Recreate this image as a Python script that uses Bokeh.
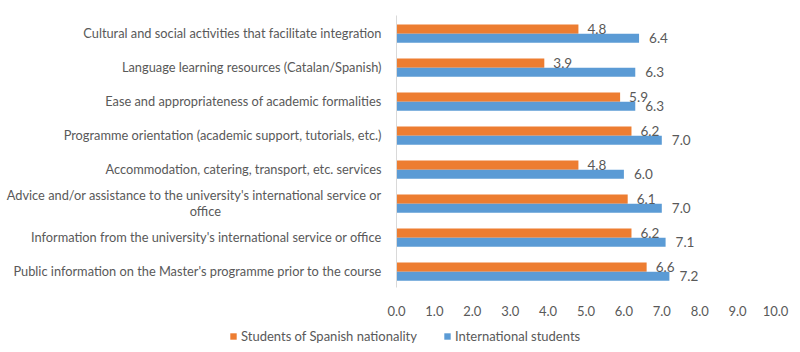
from bokeh.plotting import figure
from bokeh.layouts import column
from bokeh.models import ColumnDataSource, FixedTicker, Legend, LegendItem, NumeralTickFormatter
from bokeh.transform import dodge
from bokeh.core.properties import value
from bokeh.embed import file_html
from bokeh.resources import INLINE

categories = [
    "Cultural and social activities that facilitate integration",
    "Language learning resources (Catalan/Spanish)",
    "Ease and appropriateness of academic formalities",
    "Programme orientation (academic support, tutorials, etc.)",
    "Accommodation, catering, transport, etc. services",
    "Advice and/or assistance to the university's international service or\noffice",
    "Information from the university's international service or office",
    "Public information on the Master's programme prior to the course",
]
spanish = [4.8, 3.9, 5.9, 6.2, 4.8, 6.1, 6.2, 6.6]
international = [6.4, 6.3, 6.3, 7.0, 6.0, 7.0, 7.1, 7.2]
x_ticks = [0, 1, 2, 3, 4, 5, 6, 7, 8, 9, 10]
series_names = ["Students of Spanish nationality", "International students"]

ORANGE = "#ED7D31"
BLUE = "#5B9BD5"
TXT = "#595959"
FONT = "Lato"

# second line of a wrapped label is centred in the reference: pad it so it sits centred
def centre_wrapped(label):
    if "\n" not in label:
        return label
    first, second = label.split("\n", 1)
    pad = max(0, (len(first) - len(second)) // 2)
    return first + "\n" + second + "\u00a0" * int(pad * 1.6) + "\u200b"

factors = [centre_wrapped(c) for c in categories]

src = ColumnDataSource(dict(
    cat=factors,
    sp=spanish,
    intl=international,
    sp_lbl=[f"{v:.1f}" for v in spanish],
    intl_lbl=[f"{v:.1f}" for v in international],
))

p = figure(
    width=800, height=322,
    y_range=list(reversed(factors)),
    x_range=(0, 10),
    output_backend="svg", toolbar_location=None,
    min_border_left=396, min_border_right=25,
    min_border_top=15, min_border_bottom=35,
)
p.outline_line_color = None
p.xgrid.grid_line_color = None
p.ygrid.grid_line_color = None

r1 = p.hbar(y=dodge("cat", 0.10, range=p.y_range), right="sp", height=0.27,
            source=src, color=ORANGE, line_color=None)
r2 = p.hbar(y=dodge("cat", -0.17, range=p.y_range), right="intl", height=0.27,
            source=src, color=BLUE, line_color=None)

p.text(x="sp", y=dodge("cat", 0.10, range=p.y_range), text="sp_lbl", source=src,
       x_offset=9, text_baseline="middle", text_font=value(FONT),
       text_font_size="13.5px", text_color=TXT)
p.text(x="intl", y=dodge("cat", -0.17, range=p.y_range), text="intl_lbl", source=src,
       x_offset=10, text_baseline="middle", text_font=value(FONT),
       text_font_size="13.5px", text_color=TXT)

# x axis
xa = p.xaxis[0]
xa.ticker = FixedTicker(ticks=x_ticks)
xa.formatter = NumeralTickFormatter(format="0.0")
xa.axis_line_color = None
xa.major_tick_line_color = None
xa.minor_tick_line_color = None
xa.major_label_text_font = FONT
xa.major_label_text_font_size = "13px"
xa.major_label_text_color = TXT
xa.major_label_standoff = 12

# y axis
ya = p.yaxis[0]
ya.axis_line_color = "#D9D9D9"
ya.major_tick_line_color = None
ya.minor_tick_line_color = None
ya.major_label_text_font = FONT
ya.major_label_text_font_size = "12.8px"
ya.major_label_text_color = TXT
ya.major_label_text_line_height = 1.0
ya.major_label_standoff = 9

# legend strip below the chart
lg = figure(width=800, height=30, x_range=(0, 1), y_range=(0, 1),
            x_axis_type=None, y_axis_type=None,
            output_backend="svg", toolbar_location=None,
            min_border_left=0, min_border_right=0,
            min_border_top=0, min_border_bottom=0)
if hasattr(lg, "frame_align"):
    lg.frame_align = False
    p.frame_align = False
lg.outline_line_color = None
lg.grid.grid_line_color = None
# legend-only swatches (zero-size, nothing drawn in the strip itself)
d1 = lg.hbar(y=[0], right=[0], height=0, color=ORANGE, line_color=None)
d2 = lg.hbar(y=[0], right=[0], height=0, color=BLUE, line_color=None)

legend = Legend(
    items=[LegendItem(label=series_names[0], renderers=[d1]),
           LegendItem(label=series_names[1], renderers=[d2])],
    orientation="horizontal",
    location=(229, 8),
    glyph_width=8, glyph_height=8,
    label_text_font=FONT, label_text_font_size="13px", label_text_color=TXT,
    label_height=14,
    spacing=26, padding=0, margin=0,
    background_fill_alpha=0, border_line_color=None,
    label_standoff=4,
)
lg.add_layout(legend, "center")

open("out.html", "w").write(file_html(column(p, lg, spacing=0), INLINE))
